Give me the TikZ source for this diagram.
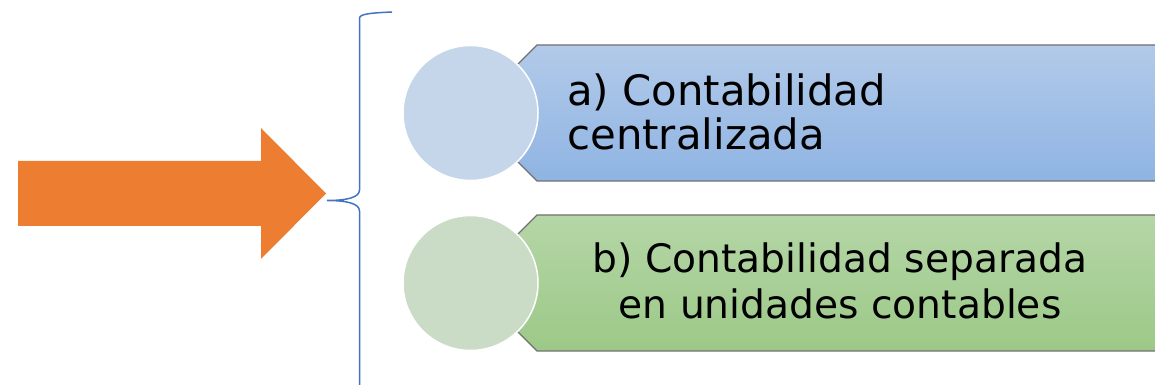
\documentclass[tikz,border=0pt]{standalone}
\usepackage{fontspec}
\setmainfont{DejaVu Sans}
\definecolor{arrowfill}{HTML}{ED7D31}
\definecolor{bracecol}{HTML}{4472C4}
\definecolor{bluetop}{HTML}{B2CAE9}
\definecolor{bluebot}{HTML}{8FB4E3}
\definecolor{greentop}{HTML}{B5D6A7}
\definecolor{greenbot}{HTML}{9CC987}
\definecolor{bluecirc}{HTML}{C5D6EB}
\definecolor{greencirc}{HTML}{CADCC6}
\definecolor{edgegray}{HTML}{707070}
\begin{document}
\begin{tikzpicture}[x=0.2mm,y=-0.2mm]
      \useasboundingbox (0,0) rectangle (1155,385);
      \fill[arrowfill] (18,161) -- (261,161) -- (261,128) -- (326,193.5)
                       -- (261,259) -- (261,226) -- (18,226) -- cycle;
      \draw[bracecol,line width=0.3mm] (392,12) .. controls (370,13) and (360,14) .. (359.5,18)
            -- (359.5,190) .. controls (359.5,198) and (345,200.5) .. (327,200.5)
            .. controls (345,200.5) and (359.5,203) .. (359.5,211) -- (359.5,392);
      \begin{scope}[every path/.style={draw=edgegray,line width=0.26mm}]
        \shade[top color=bluetop,bottom color=bluebot]
              (497,85) -- (537,45) -- (1170,45) -- (1170,181) -- (537,181) -- (497,141) -- cycle;
        \shade[top color=greentop,bottom color=greenbot]
              (497,255) -- (537,215) -- (1170,215) -- (1170,351) -- (537,351) -- (497,311) -- cycle;
      \end{scope}
      \begin{scope}[every node/.style={circle,draw=white,line width=0.3mm,minimum size=27mm,inner sep=0pt}]
        \node[fill=bluecirc] (ca) at (470.5,113) {};
        \node[fill=greencirc] (cb) at (470.5,283) {};
      \end{scope}
      \begin{scope}[every node/.style={inner sep=0pt}]
        \node[anchor=base west,align=left,font=\fontsize{23.8}{25.6}\selectfont] (ta) at (567,150)
              {a) Contabilidad\\centralizada};
        \node[anchor=base,align=center,font=\fontsize{22.3}{26.7}\selectfont] (tb) at (840,319)
              {b) Contabilidad separada\\en unidades contables};
      \end{scope}
    \end{tikzpicture}
\end{document}
